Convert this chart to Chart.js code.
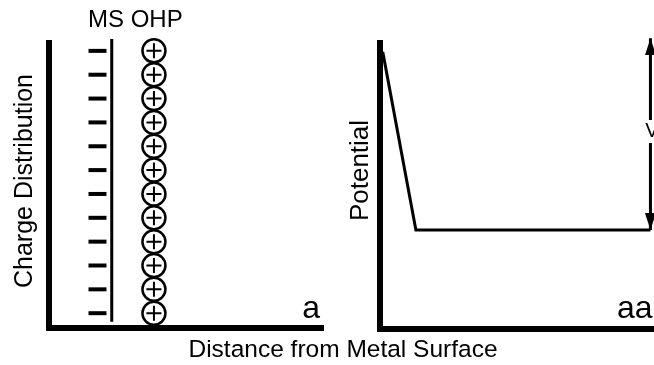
<!DOCTYPE html>
<html>
<head>
<meta charset="utf-8">
<script src="https://cdn.jsdelivr.net/npm/chart.js@4.4.1/dist/chart.umd.min.js"></script>
<style>
  html, body { margin: 0; padding: 0; background: #fff; }
  #wrap { position: relative; width: 654px; height: 365px; overflow: hidden; }
  .panel { position: absolute; top: 0; height: 365px; }
  #left { left: 0; width: 654px; }
  #right { left: 330px; width: 324px; }
</style>
</head>
<body>
<div id="wrap">
  <div class="panel" id="left"><canvas id="chargeChart"></canvas></div>
  <div class="panel" id="right"><canvas id="potentialChart"></canvas></div>
</div>
<script>
// charge layers, counted up from the bottom axis
const layers = [1, 2, 3, 4, 5, 6, 7, 8, 9, 10, 11, 12]
const metalChargeX = 1.77   // negative charge on the metal
const msX = 2.29            // metal surface
const ohpX = 3.83           // outer Helmholtz plane
const msExtent = [0.64, 12.5]

// potential vs distance
const potentialX = [0.1, 1.31, 9.87]
const potentialY = [9.69, 3.46, 3.46]
const dropX = 9.87
const dropY = [10.17, 3.46]

const FONT = "'Liberation Sans', Arial, Helvetica, sans-serif"

// elongated arrow head, tip at the centre of the canvas
function arrowHead(w, len) {
  const c = document.createElement("canvas")
  c.width = w
  c.height = len * 2
  const g = c.getContext("2d")
  g.fillStyle = "#000"
  g.beginPath()
  g.moveTo(w / 2, len)
  g.lineTo(w, len * 2)
  g.lineTo(0, len * 2)
  g.closePath()
  g.fill()
  return c
}

function axis(fitW, fitH, min, max) {
  return {
    type: "linear",
    min: min,
    max: max,
    grid: { display: false, drawTicks: false },
    ticks: { display: false },
    border: { display: true, width: 6, color: "#000" },
    afterFit: (scale) => {
      if (fitW != null) scale.width = fitW
      if (fitH != null) scale.height = fitH
    },
  }
}

function text(ctx, str, x, y, size, align, rotate) {
  ctx.save()
  ctx.fillStyle = "#000"
  ctx.font = size + "px " + FONT
  ctx.textAlign = align
  ctx.textBaseline = "alphabetic"
  ctx.translate(x, y)
  if (rotate) ctx.rotate(-Math.PI / 2)
  ctx.fillText(str, 0, 0)
  ctx.restore()
}

const chargeLabels = {
  id: "chargeLabels",
  afterDraw(chart) {
    const { ctx, scales: { x }, chartArea } = chart
    text(ctx, "Charge Distribution", 31.5, 181, 25, "center", true)
    text(ctx, "MS OHP", x.getPixelForValue(metalChargeX) - 9.5, 27, 24, "left")
    text(ctx, "a", chartArea.right - 3, 317.5, 32, "right")
    text(ctx, "Distance from Metal Surface", 343, 356.5, 24.5, "center")
  },
}

const potentialLabels = {
  id: "potentialLabels",
  afterDraw(chart) {
    const { ctx, scales: { x } } = chart
    const ax = x.getPixelForValue(dropX)
    ctx.save()
    ctx.fillStyle = "#fff"
    ctx.fillRect(ax - 5, 120, 12, 23)
    ctx.restore()
    text(ctx, "V", ax - 5.3, 137, 20, "left")
    text(ctx, "Potential", 38, 170.5, 26, "center", true)
    text(ctx, "aa", 287, 317.5, 32, "left")
  },
}

const common = {
  responsive: true,
  maintainAspectRatio: false,
  animation: false,
  events: [],
  plugins: { legend: { display: false }, tooltip: { enabled: false } },
}

new Chart(document.getElementById("chargeChart"), {
  type: "scatter",
  data: {
    datasets: [
      {
        data: layers.map((k) => ({ x: metalChargeX, y: k })),
        pointStyle: "line",
        pointRadius: 9,
        pointBorderWidth: 4,
        borderColor: "#000",
        clip: false,
      },
      {
        data: msExtent.map((v) => ({ x: msX, y: v })),
        showLine: true,
        borderColor: "#000",
        borderWidth: 3,
        pointRadius: 0,
        clip: false,
      },
      {
        data: layers.map((k) => ({ x: ohpX, y: k })),
        pointStyle: "circle",
        pointRadius: 11.5,
        pointBorderWidth: 2.5,
        borderColor: "#000",
        backgroundColor: "rgba(0,0,0,0)",
        clip: false,
      },
      {
        data: layers.map((k) => ({ x: ohpX, y: k })),
        pointStyle: "cross",
        pointRadius: 7.5,
        pointBorderWidth: 2,
        borderColor: "#000",
        clip: false,
      },
    ],
  },
  options: {
    ...common,
    layout: { autoPadding: false, padding: { top: 43, left: 0, right: 331, bottom: 0 } },
    scales: {
      x: axis(null, 37.5, 0, 10),
      y: axis(49, null, 0.4, 12.33),
    },
  },
  plugins: [chargeLabels],
})

const head = arrowHead(11, 17)

new Chart(document.getElementById("potentialChart"), {
  type: "scatter",
  data: {
    datasets: [
      {
        data: potentialX.map((v, i) => ({ x: v, y: potentialY[i] })),
        showLine: true,
        borderColor: "#000",
        borderWidth: 3,
        pointRadius: 0,
        clip: false,
      },
      {
        data: dropY.map((v) => ({ x: dropX, y: v })),
        showLine: true,
        borderColor: "#000",
        borderWidth: 3,
        pointStyle: head,
        pointRadius: 9,
        pointRotation: [0, 180],
        clip: false,
      },
    ],
  },
  options: {
    ...common,
    layout: { autoPadding: false, padding: { top: 43, left: 0, right: 0, bottom: 0 } },
    scales: {
      x: axis(null, 36, 0, 10),
      y: axis(50, null, 0, 10),
    },
  },
  plugins: [potentialLabels],
})
</script>
</body>
</html>
